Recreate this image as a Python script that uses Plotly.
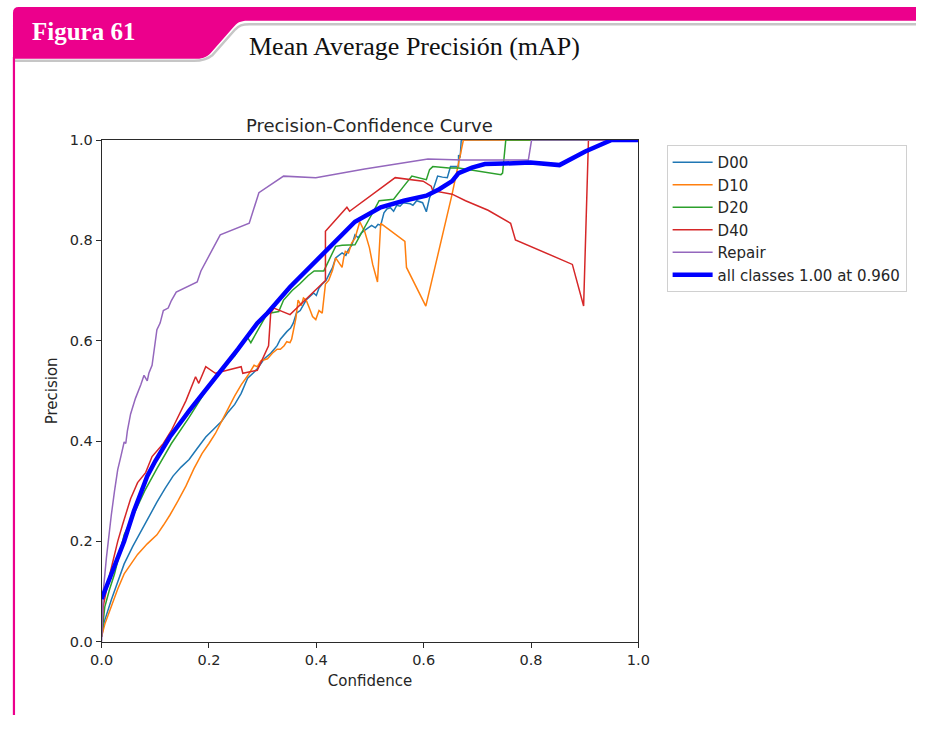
import plotly.graph_objects as go

# ---------------- data ----------------
d00_x = [0, 0.005, 0.018, 0.03, 0.042, 0.058, 0.073, 0.088, 0.103, 0.118, 0.133, 0.148, 0.163, 0.178,
         0.194, 0.21, 0.224, 0.236, 0.248, 0.26, 0.272, 0.282, 0.29, 0.303, 0.315, 0.327, 0.333, 0.345,
         0.352, 0.357, 0.363, 0.37, 0.381, 0.39, 0.395, 0.40, 0.405, 0.411, 0.418, 0.425, 0.43, 0.436,
         0.442, 0.448, 0.455, 0.46, 0.466, 0.472, 0.478, 0.484, 0.49, 0.496, 0.503, 0.51, 0.515, 0.52,
         0.526, 0.532, 0.538, 0.544, 0.55, 0.556, 0.562, 0.575, 0.58, 0.587, 0.593, 0.598, 0.605, 0.611,
         0.617, 0.622, 0.626, 0.635, 0.644, 0.65, 0.665, 0.665, 0.668, 0.67, 1.0]
d00_y = [0.01, 0.04, 0.083, 0.12, 0.155, 0.19, 0.22, 0.25, 0.278, 0.305, 0.33, 0.348, 0.363, 0.385,
         0.408, 0.425, 0.44, 0.458, 0.473, 0.495, 0.525, 0.535, 0.544, 0.564, 0.575, 0.59, 0.603, 0.618,
         0.625, 0.635, 0.655, 0.66, 0.681, 0.69, 0.695, 0.69, 0.705, 0.713, 0.72, 0.735, 0.745, 0.765,
         0.77, 0.775, 0.77, 0.782, 0.79, 0.811, 0.805, 0.815, 0.82, 0.824, 0.83, 0.825, 0.832, 0.83,
         0.855, 0.863, 0.865, 0.858, 0.87, 0.868, 0.875, 0.873, 0.87, 0.879, 0.877, 0.875, 0.857, 0.885,
         0.899, 0.915, 0.928, 0.926, 0.925, 0.947, 0.947, 0.97, 0.965, 1.0, 1.0]

d10_x = [0, 0.006, 0.018, 0.03, 0.042, 0.055, 0.067, 0.085, 0.103, 0.115, 0.127, 0.142, 0.157, 0.172,
         0.187, 0.2, 0.212, 0.224, 0.236, 0.248, 0.26, 0.272, 0.284, 0.29, 0.297, 0.309, 0.318, 0.327,
         0.333, 0.34, 0.345, 0.351, 0.354, 0.358, 0.362, 0.366, 0.372, 0.376, 0.381, 0.387, 0.393, 0.399,
         0.405, 0.411, 0.414, 0.417, 0.423, 0.43, 0.436, 0.442, 0.448, 0.451, 0.454, 0.46, 0.466, 0.472,
         0.477, 0.481, 0.486, 0.49, 0.499, 0.505, 0.514, 0.52, 0.565, 0.568, 0.604, 0.653, 0.674, 1.0]
d10_y = [0.01, 0.035, 0.07, 0.105, 0.135, 0.155, 0.174, 0.195, 0.213, 0.232, 0.252, 0.28, 0.31, 0.345,
         0.375, 0.395, 0.415, 0.44, 0.466, 0.49, 0.512, 0.53, 0.551, 0.548, 0.56, 0.564, 0.575, 0.583,
         0.583, 0.59, 0.598, 0.596, 0.603, 0.625, 0.645, 0.681, 0.67, 0.685, 0.681, 0.665, 0.648, 0.642,
         0.66, 0.655, 0.68, 0.713, 0.72, 0.74, 0.765, 0.755, 0.746, 0.765, 0.778, 0.775, 0.795, 0.804,
         0.82, 0.837, 0.826, 0.818, 0.785, 0.752, 0.717, 0.834, 0.798, 0.746, 0.669, 0.892, 1.0, 1.0]

d20_x = [0, 0.006, 0.015, 0.024, 0.042, 0.06, 0.08, 0.103, 0.13, 0.163, 0.187, 0.2, 0.218, 0.235, 0.248,
         0.26, 0.272, 0.278, 0.29, 0.309, 0.315, 0.33, 0.339, 0.355, 0.369, 0.385, 0.396, 0.414, 0.436,
         0.448, 0.472, 0.493, 0.505, 0.517, 0.535, 0.544, 0.563, 0.578, 0.605, 0.611, 0.617, 0.647, 0.665,
         0.744, 0.747, 0.753, 1.0]
d20_y = [0.01, 0.07, 0.105, 0.135, 0.213, 0.255, 0.3, 0.345, 0.395, 0.447, 0.489, 0.51, 0.535, 0.555, 0.57,
         0.59, 0.606, 0.596, 0.62, 0.655, 0.655, 0.658, 0.681, 0.7, 0.713, 0.73, 0.739, 0.739, 0.788,
         0.79, 0.791, 0.83, 0.855, 0.879, 0.882, 0.882, 0.908, 0.928, 0.921, 0.941, 0.947, 0.944, 0.944,
         0.931, 0.934, 1.0, 1.0]

d40_x = [0, 0.003, 0.012, 0.021, 0.03, 0.039, 0.054, 0.067, 0.082, 0.094, 0.106, 0.115, 0.13, 0.143,
         0.157, 0.175, 0.181, 0.194, 0.212, 0.26, 0.263, 0.29, 0.311, 0.315, 0.321, 0.351, 0.417, 0.417,
         0.457, 0.462, 0.547, 0.599, 0.614, 0.617, 0.653, 0.678, 0.72, 0.762, 0.771, 0.877, 0.898, 0.907, 1.0]
d40_y = [0.01, 0.07, 0.12, 0.161, 0.2, 0.233, 0.285, 0.317, 0.337, 0.369, 0.385, 0.395, 0.421, 0.45,
         0.48, 0.528, 0.515, 0.548, 0.535, 0.548, 0.535, 0.541, 0.59, 0.655, 0.665, 0.652, 0.72, 0.818,
         0.866, 0.858, 0.925, 0.918, 0.908, 0.899, 0.892, 0.879, 0.86, 0.834, 0.801, 0.752, 0.669, 1.0, 1.0]

rep_x = [0, 0.003, 0.009, 0.013, 0.018, 0.024, 0.03, 0.036, 0.042, 0.045, 0.048, 0.054, 0.063, 0.073,
         0.079, 0.085, 0.088, 0.094, 0.1, 0.103, 0.109, 0.112, 0.115, 0.124, 0.13, 0.139, 0.178, 0.185,
         0.2, 0.221, 0.275, 0.293, 0.339, 0.399, 0.49, 0.608, 0.672, 0.795, 0.801, 1.0]
rep_y = [0.0, 0.1, 0.168, 0.21, 0.252, 0.3, 0.343, 0.37, 0.398, 0.395, 0.42, 0.454, 0.485, 0.512,
         0.531, 0.52, 0.535, 0.551, 0.6, 0.622, 0.635, 0.648, 0.66, 0.665, 0.68, 0.697, 0.717, 0.739,
         0.77, 0.811, 0.834, 0.895, 0.928, 0.925, 0.942, 0.962, 0.96, 0.96, 1.0, 1.0]

all_x = [0, 0.02, 0.042, 0.06, 0.085, 0.1, 0.127, 0.163, 0.212, 0.254, 0.29, 0.309, 0.351, 0.411, 0.472,
         0.52, 0.563, 0.605, 0.629, 0.653, 0.665, 0.69, 0.714, 0.75, 0.799, 0.853, 0.901, 0.95, 1.0]
all_y = [0.085, 0.14, 0.2, 0.26, 0.33, 0.36, 0.408, 0.46, 0.525, 0.583, 0.635, 0.655, 0.707, 0.772, 0.837,
         0.866, 0.879, 0.889, 0.902, 0.918, 0.934, 0.945, 0.952, 0.953, 0.955, 0.95, 0.977, 1.0, 1.0]

series_names = ["D00", "D10", "D20", "D40", "Repair", "all classes 1.00 at 0.960"]
series_x = [d00_x, d10_x, d20_x, d40_x, rep_x, all_x]
series_y = [d00_y, d10_y, d20_y, d40_y, rep_y, all_y]
series_colors = ["#1f77b4", "#ff7f0e", "#2ca02c", "#d62728", "#9467bd", "#0000ff"]
series_widths = [1.5, 1.5, 1.5, 1.5, 1.5, 4.5]

title_text = "Precision-Confidence Curve"
x_label = "Confidence"
y_label = "Precision"
fig_label = "Figura 61"
header_text = "Mean Average Precisión (mAP)"

# ---------------- figure ----------------
OFF = 8  # page body margin (top/left)
W, H = 936 - OFF, 731 - OFF
MAG = "#EC008C"


def px(x, y):
    return (x - OFF) / W, 1 - (y - OFF) / H


def path(cmds):
    out = []
    for c in cmds:
        if isinstance(c, str):
            out.append(c)
        else:
            X, Y = px(*c)
            out.append(f"{X:.5f},{Y:.5f}")
    return " ".join(out)


fig = go.Figure()
for i, (n, xs, ys, c, w) in enumerate(zip(series_names, series_x, series_y, series_colors, series_widths)):
    fig.add_trace(go.Scatter(x=xs, y=ys, mode="lines", name=n,
                             line=dict(color=c, width=w), legendgroup=f"g{i}"))

x0, x1 = px(100, 0)[0], px(651, 0)[0]
yb, yt = px(0, 656)[1], px(0, 143)[1]

axis_common = dict(range=[0, 1], dtick=0.2, tick0=0, tickformat=".1f", showgrid=False, zeroline=False,
                   showline=True, linecolor="#2a2a2a", linewidth=1, mirror=True, ticks="outside",
                   ticklen=5, tickwidth=1, tickcolor="#2a2a2a",
                   tickfont=dict(family="DejaVu Sans", size=14.5, color="#262626"))

fig.update_layout(
    width=W, height=H, margin=dict(l=0, r=0, t=0, b=0),
    paper_bgcolor="white", plot_bgcolor="white",
    xaxis=dict(domain=[x0, x1], title=dict(text=x_label, standoff=8,
               font=dict(family="DejaVu Sans", size=15, color="#262626")), **axis_common),
    yaxis=dict(domain=[yb, yt], title=dict(text=y_label, standoff=8,
               font=dict(family="DejaVu Sans", size=15, color="#262626")), **axis_common),
    legend=dict(x=px(680, 0)[0], y=px(0, 148)[1], xanchor="left", yanchor="top",
                bordercolor="#d0d0d0", borderwidth=1, bgcolor="white", tracegroupgap=0,
                itemwidth=40,
                font=dict(family="DejaVu Sans", size=15, color="#262626")),
    showlegend=True,
)

shapes = []
# magenta header band + tab
shapes.append(dict(type="path", xref="paper", yref="paper", line=dict(width=0), fillcolor=MAG,
                   path=path(["M", (9, 60), "L", (9, 13), "Q", (9, 7), (15, 7), "L", (936, 7), "L", (936, 21),
                              "L", (250, 21), "C", (242, 21), (239, 23), (235, 28), "L", (212, 54),
                              "C", (207, 59), (203, 60), (195, 60), "Z"])))
# grey shadow line
shapes.append(dict(type="path", xref="paper", yref="paper", line=dict(width=2.5, color="#c6c6c6"),
                   path=path(["M", (11, 62), "L", (195, 62), "C", (204, 62), (209, 60), (214, 56),
                              "L", (237, 30), "C", (241, 26), (244, 24.5), (252, 24.5), "L", (936, 24.5)])))
# left magenta border
shapes.append(dict(type="line", xref="paper", yref="paper", line=dict(width=2.2, color=MAG),
                   x0=px(10, 0)[0], x1=px(10, 0)[0], y0=px(0, 58)[1], y1=px(0, 731)[1]))
fig.update_layout(shapes=shapes)

ann = []
ann.append(dict(text=f"<b>{fig_label}</b>", xref="paper", yref="paper", x=px(26, 0)[0], y=px(0, 32)[1],
                xanchor="left", yanchor="middle", showarrow=False,
                font=dict(family="Liberation Serif", size=25, color="white")))
ann.append(dict(text=header_text, xref="paper", yref="paper", x=px(421, 0)[0], y=px(0, 47)[1],
                xanchor="center", yanchor="middle", showarrow=False,
                font=dict(family="Liberation Serif", size=26, color="#111111")))
ann.append(dict(text=title_text, xref="paper", yref="paper", x=(x0 + x1) / 2, y=px(0, 128)[1],
                xanchor="center", yanchor="middle", showarrow=False,
                font=dict(family="DejaVu Sans", size=18, color="#262626")))
fig.update_layout(annotations=ann)

fig.write_html("out.html")
